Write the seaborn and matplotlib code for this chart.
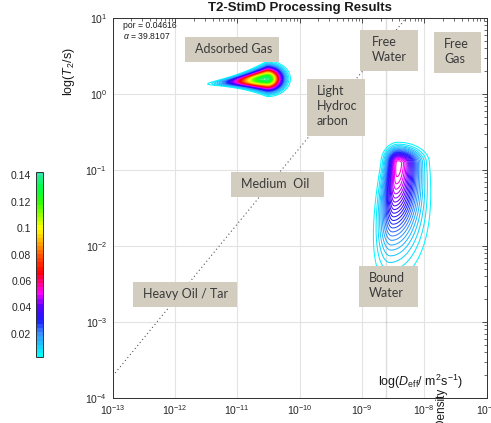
import numpy as np
import matplotlib
matplotlib.use('Agg')
import matplotlib.pyplot as plt
import seaborn as sns
import pandas as pd
from matplotlib.colors import LinearSegmentedColormap, Normalize
from matplotlib.patches import Rectangle
import matplotlib.ticker as mticker
import matplotlib.cm as cm

# ---------------- data ----------------
x_tick_exp = [-13, -12, -11, -10, -9, -8, -7]
y_tick_exp = [-4, -3, -2, -1, 0, 1]
cbar_ticks = [0.02, 0.04, 0.06, 0.08, 0.1, 0.12, 0.14]
cbar_labels = ["0.02", "0.04", "0.06", "0.08", "0.1", "0.12", "0.14"]

# Adsorbed-gas peak (teardrop, tail to the left)
gas_logD = -10.52
gas_logT2 = 0.20
gas_amp = 0.138
gas_sD = [0.36, 0.14]      # left, right
gas_sT2 = 0.088
gas_tail = 0.6
gas_tilt = 0.07

# Bound-water peak (long tail downward)
bw_logD = -8.42
bw_logT2 = -0.91
bw_amp = 0.055
bw_sD = [0.12, 0.22]       # left, right
bw_sT2 = [0.12, 0.68]      # up, down
bw_lean = 0.10
bw_widen = 0.40

oil_line_logD = [-13.0, -8.29]
oil_line_logT2 = [-3.71, 1.0]
water_line_logD = [-8.62, -8.62]
water_line_logT2 = [-4.0, 1.0]

por_value = "0.04616"
alpha_value = "39.8107"

region_labels = ["Adsorbed Gas", "Free\nWater", "Free\nGas", "Light\nHydroc\narbon",
                 "Medium  Oil", "Heavy Oil / Tar", "Bound\nWater"]

# ---------------- style ----------------
sns.set_theme(style="white")
plt.rcParams['font.family'] = ['Liberation Sans', 'DejaVu Sans']
plt.rcParams['mathtext.fontset'] = 'custom'
plt.rcParams['mathtext.rm'] = 'Liberation Sans'
plt.rcParams['mathtext.it'] = 'Liberation Sans:italic'
plt.rcParams['mathtext.bf'] = 'Liberation Sans:bold'

W, H = 491, 423
fig = plt.figure(figsize=(W / 100, H / 100), dpi=100)

def fx(x):
    return x / W

def fy(y):
    return 1 - y / H

ax_l, ax_r, ax_t, ax_b = 112.7, 486.5, 18.0, 398.0
ax = fig.add_axes([fx(ax_l), fy(ax_b), fx(ax_r) - fx(ax_l), fy(ax_t) - fy(ax_b)])

# colormap
cmap = LinearSegmentedColormap.from_list("t2d", [
    (0.00, "#00ffff"), (0.12, "#3a8cff"), (0.19, "#1a1aff"), (0.27, "#5a00ff"),
    (0.34, "#ff00ff"), (0.46, "#ff0000"), (0.55, "#ff5500"), (0.62, "#ffaa00"),
    (0.70, "#ffff00"), (0.84, "#33ff00"), (0.92, "#00ff44"), (1.00, "#30e8a8")])
vmin, vmax = 0.0026, 0.1423
norm = Normalize(vmin, vmax)

# grid surface
L = np.linspace(-13, -7, 500)
T = np.linspace(-4, 1, 450)
LL, TT = np.meshgrid(L, T)

dx = LL - gas_logD
sx = np.where(dx < 0, gas_sD[0], gas_sD[1])
a = np.exp(-0.5 * (dx / sx) ** 2)
sy = gas_sT2 * np.where(dx < 0, np.exp(np.minimum(dx, 0) / gas_tail), 1.0)
yc = gas_logT2 + gas_tilt * np.minimum(dx, 0)
Z1 = gas_amp * a * np.exp(-0.5 * ((TT - yc) / sy) ** 2)

dy = TT - bw_logT2
syb = np.where(dy > 0, bw_sT2[0], bw_sT2[1])
b = np.exp(-0.5 * (dy / syb) ** 2)
xc = bw_logD + bw_lean * np.minimum(dy, 0)
widen = 1 + bw_widen * np.abs(np.minimum(dy, 0))
dxb = LL - xc
sxb = np.where(dxb < 0, bw_sD[0], bw_sD[1]) * widen
Z2 = bw_amp * b * np.exp(-0.5 * (dxb / sxb) ** 2)

Z = Z1 + Z2
levels = np.linspace(0.004, 0.142, 60)
ax.contour(10.0 ** LL, 10.0 ** TT, Z, levels=levels, cmap=cmap, norm=norm, linewidths=0.75)

# reference lines
oil_df = pd.DataFrame({"D": 10.0 ** np.array(oil_line_logD), "T2": 10.0 ** np.array(oil_line_logT2)})
wat_df = pd.DataFrame({"D": 10.0 ** np.array(water_line_logD), "T2": 10.0 ** np.array(water_line_logT2)})
sns.lineplot(data=oil_df, x="D", y="T2", ax=ax, color="#555555", lw=0.8, linestyle=(0, (1, 2.5)), sort=False)
sns.lineplot(data=wat_df, x="D", y="T2", ax=ax, color="#555555", lw=0.8, linestyle=(0, (1, 2.5)), sort=False)

ax.set_xscale('log')
ax.set_yscale('log')
ax.set_xlim(1e-13, 1e-7)
ax.set_ylim(1e-4, 1e1)
ax.set_xlabel("")
ax.set_ylabel("")
ax.set_xticks([10.0 ** e for e in x_tick_exp])
ax.set_xticklabels([r"10$^{%d}$" % e for e in x_tick_exp])
ax.set_yticks([10.0 ** e for e in y_tick_exp])
ax.set_yticklabels([r"10$^{%d}$" % e for e in y_tick_exp])
ax.xaxis.set_minor_locator(mticker.LogLocator(base=10, subs=np.arange(2, 10), numticks=20))
ax.yaxis.set_minor_locator(mticker.LogLocator(base=10, subs=np.arange(2, 10), numticks=20))
ax.xaxis.set_minor_formatter(mticker.NullFormatter())
ax.yaxis.set_minor_formatter(mticker.NullFormatter())
ax.tick_params(which='both', direction='in', top=True, right=True, colors='#303030',
               labelsize=7.5, labelcolor='#262626')
ax.tick_params(which='major', length=3.5, width=0.6, pad=4)
ax.tick_params(which='minor', length=2, width=0.5)
ax.grid(True, which='major', color='#e3e3e3', lw=0.8)
ax.set_axisbelow(True)
for s in ax.spines.values():
    s.set_color('#303030')
    s.set_linewidth(0.7)

# colorbar
cax = fig.add_axes([fx(35.5), fy(357), fx(7), fy(172) - fy(357)])
sm = cm.ScalarMappable(norm=norm, cmap=cmap.resampled(45))
cb = fig.colorbar(sm, cax=cax, ticks=cbar_ticks)
cb.ax.set_yticklabels(cbar_labels)
cax.yaxis.set_ticks_position('left')
cax.yaxis.set_label_position('left')
cax.tick_params(labelsize=7.5, labelcolor='#262626', length=2, width=0.5, direction='in', pad=3)
cb.outline.set_edgecolor('#303030')
cb.outline.set_linewidth(0.7)

# titles / labels
fig.text(fx(300), fy(8), "T2-StimD Processing Results", ha='center', va='center',
         fontsize=9.5, fontweight='bold', color='#1a1a1a')
fig.text(fx(69), fy(72), r"log($T_2$/s)", rotation=90, ha='center', va='center',
         fontsize=9, color='#1a1a1a')
fig.text(fx(378), fy(386), r"log($D_{\rm eff}$/ m$^2$s$^{-1}$)", ha='left', va='baseline',
         fontsize=9, color='#1a1a1a')
fig.text(fx(441), fy(388), "Density", rotation=90, ha='center', va='top',
         fontsize=8.5, color='#1a1a1a')
fig.text(fx(123), fy(26), "por = " + por_value, ha='left', va='center', fontsize=6.2, color='#1a1a1a')
fig.text(fx(123), fy(36), r"$\alpha$ = " + alpha_value, ha='left', va='center', fontsize=6.2, color='#1a1a1a')

# region boxes (pixel extents) and label text
boxes = [(185, 37, 279, 62), (360, 30, 418, 71), (434, 32, 481, 73), (307, 79, 365, 136),
         (231, 172, 324, 197), (133, 282, 237, 307), (359, 266, 418, 307)]
text_offsets = [(10, 13), (12, 13), (10, 13), (10, 13), (10, 13), (10, 13), (10, 13)]
for (x0, y0, x1, y1), lab, (ox, oy) in zip(boxes, region_labels, text_offsets):
    r = Rectangle((fx(x0), fy(y1)), fx(x1) - fx(x0), fy(y0) - fy(y1), transform=fig.transFigure,
                  facecolor='#d3cdc0', edgecolor='none', zorder=5)
    fig.add_artist(r)
    fig.text(fx(x0 + ox), fy(y0 + oy - 7), lab, ha='left', va='top', fontsize=9,
             family=['Lato', 'DejaVu Sans'], color='#3a3a3a', linespacing=1.3, zorder=6)

fig.savefig("out.png", dpi=100)
